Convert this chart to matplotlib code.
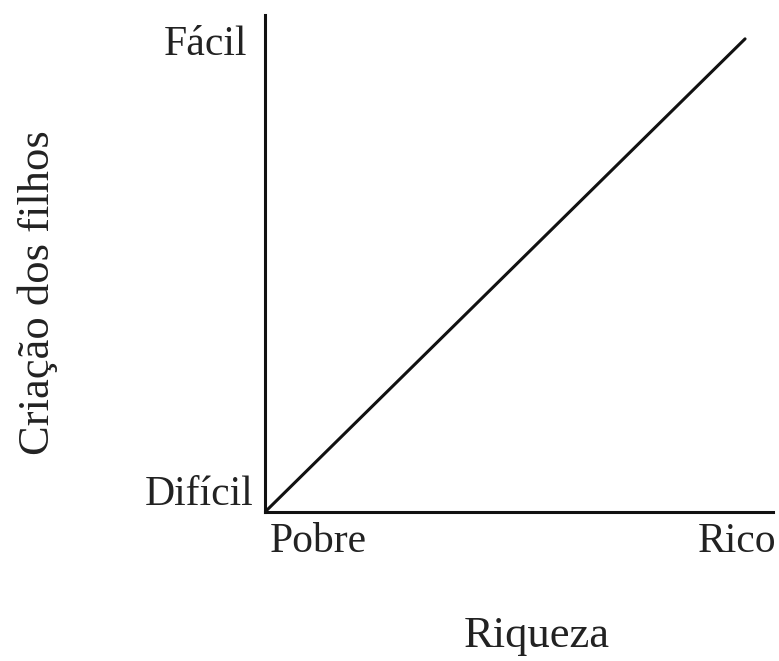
import matplotlib.pyplot as plt

# data (axes run 0..1)
riqueza = [0.0, 0.945]
criacao = [0.0, 0.952]
x_labels = ["Pobre", "Rico"]
y_labels = ["Difícil", "Fácil"]
x_title = "Riqueza"
y_title = "Criação dos filhos"

W, H = 779, 661
plt.rcParams['font.family'] = ['Liberation Serif', 'DejaVu Serif']

fig = plt.figure(figsize=(W / 100, H / 100), dpi=100)


def fx(px):
    return px / W


def fy(py):
    return 1 - py / H


# axes box: left 265, right 773, top 15, bottom 512 (pixels)
ax = fig.add_axes([fx(265), fy(512), fx(773) - fx(265), (512 - 15) / H])
ax.plot(riqueza, criacao, color="#111111", lw=2.2, solid_capstyle="round")
ax.set_xlim(0, 1)
ax.set_ylim(0, 1)
ax.spines["top"].set_visible(False)
ax.spines["right"].set_visible(False)
for s in ("left", "bottom"):
    ax.spines[s].set_linewidth(2.2)
    ax.spines[s].set_color("#111111")
ax.set_xticks([])
ax.set_yticks([])

fs = 30
fs_title = 32
col = "#222222"
fig.text(fx(270), fy(552), x_labels[0], ha="left", va="baseline", fontsize=fs, color=col)
fig.text(fx(776), fy(552), x_labels[1], ha="right", va="baseline", fontsize=fs, color=col)
fig.text(fx(253), fy(505), y_labels[0], ha="right", va="baseline", fontsize=fs, color=col)
fig.text(fx(247), fy(55), y_labels[1], ha="right", va="baseline", fontsize=fs, color=col)
fig.text(fx(537), fy(647), x_title, ha="center", va="baseline", fontsize=fs_title, color=col)
fig.text(fx(38), fy(293), y_title, ha="center", va="center", rotation=90, fontsize=fs_title, color=col)

plt.savefig("out.png", dpi=100)
plt.close()
